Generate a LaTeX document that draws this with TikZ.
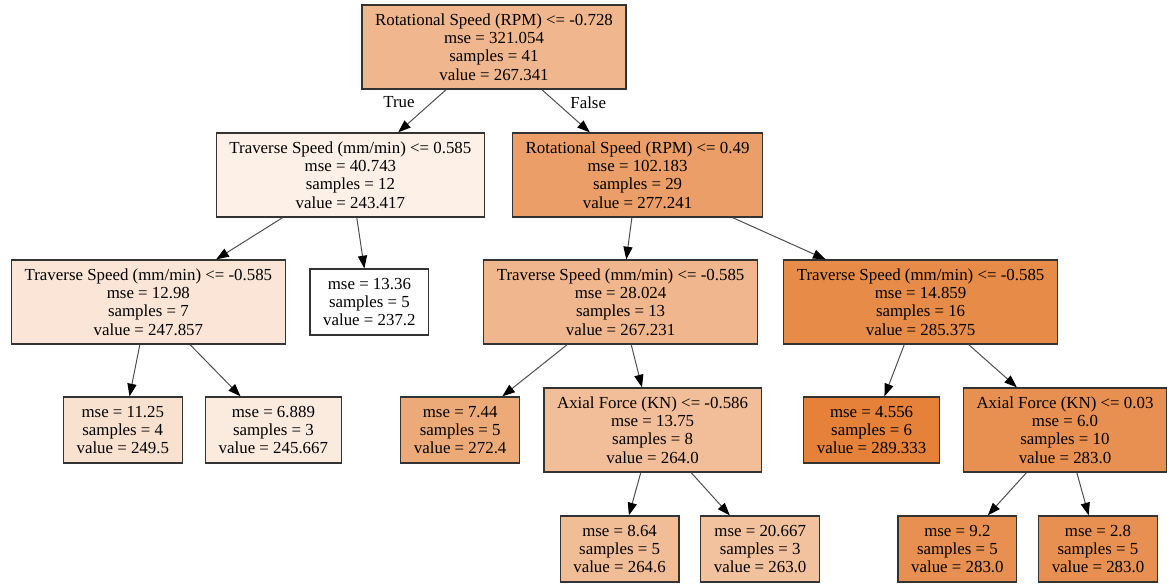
\documentclass[tikz,border=0pt]{standalone}
\usepackage{fontspec}
\setmainfont{Liberation Serif}
\usepackage{tikz}
\usetikzlibrary{shapes.geometric, arrows.meta}
\definecolor{vroot}{RGB}{240,182,141}
\definecolor{vspla}{RGB}{252,240,231}
\definecolor{vsplb}{RGB}{235,158,103}
\definecolor{vsplc}{RGB}{250,229,215}
\definecolor{vspld}{RGB}{240,182,141}
\definecolor{vsple}{RGB}{231,139,72}
\definecolor{vsplf}{RGB}{242,190,153}
\definecolor{vsplg}{RGB}{232,144,81}
\definecolor{vleafa}{RGB}{249,225,208}
\definecolor{vleafb}{RGB}{251,235,223}
\definecolor{vleafc}{RGB}{237,170,121}
\definecolor{vleafd}{RGB}{229,129,57}
\definecolor{vleafe}{RGB}{241,189,151}
\definecolor{vleaff}{RGB}{242,193,157}
\definecolor{vleafg}{RGB}{232,144,81}
\tikzstyle{split} = [rectangle, minimum height=2.1cm, inner xsep=0.33cm, align=center, draw=black!80, line width=0.9pt, font=\fontsize{12}{13}\selectfont]
\tikzstyle{leaf} = [rectangle, minimum height=1.65cm, inner xsep=0.33cm, align=center, draw=black!80, line width=0.9pt, font=\fontsize{12}{13}\selectfont]
\tikzstyle{arrow} = [draw=black!70, line width=0.7pt, -{Triangle[length=9pt,width=6.5pt,color=black]}]
\begin{document}
\begin{tikzpicture}[node distance=3.2cm]
\useasboundingbox (-12.35,1.175) rectangle (16.825,-13.45);
\node (root) [split, fill=vroot] {Rotational Speed (RPM) <= -0.728\\mse = 321.054\\samples = 41\\value = 267.341};
\node (spl1) [split, fill=vspla, below of=root, xshift=-3.59cm] {Traverse Speed (mm/min) <= 0.585\\mse = 40.743\\samples = 12\\value = 243.417};
\node (spl2) [split, fill=vsplb, below of=root, xshift=3.59cm] {Rotational Speed (RPM) <= 0.49\\mse = 102.183\\samples = 29\\value = 277.241};
\node (spl3) [split, fill=vsplc, below of=spl1, xshift=-5.05cm, yshift=0.025cm] {Traverse Speed (mm/min) <= -0.585\\mse = 12.98\\samples = 7\\value = 247.857};
\node (leaf1) [leaf, fill=white, below of=spl1, xshift=0.475cm, yshift=0.025cm] {mse = 13.36\\samples = 5\\value = 237.2};
\node (spl4) [split, fill=vspld, below of=spl2, xshift=-0.425cm, yshift=0.025cm] {Traverse Speed (mm/min) <= -0.585\\mse = 28.024\\samples = 13\\value = 267.231};
\node (spl5) [split, fill=vsple, below of=spl2, xshift=7.075cm, yshift=0.025cm] {Traverse Speed (mm/min) <= -0.585\\mse = 14.859\\samples = 16\\value = 285.375};
\node (leaf2) [leaf, fill=vleafa, below of=spl3, xshift=-0.64cm] {mse = 11.25\\samples = 4\\value = 249.5};
\node (leaf3) [leaf, fill=vleafb, below of=spl3, xshift=3.125cm] {mse = 6.889\\samples = 3\\value = 245.667};
\node (leaf4) [leaf, fill=vleafc, below of=spl4, xshift=-4.01cm] {mse = 7.44\\samples = 5\\value = 272.4};
\node (spl6) [split, fill=vsplf, below of=spl4, xshift=0.8cm] {Axial Force (KN) <= -0.586\\mse = 13.75\\samples = 8\\value = 264.0};
\node (leaf5) [leaf, fill=vleafd, below of=spl5, xshift=-1.225cm] {mse = 4.556\\samples = 6\\value = 289.333};
\node (spl7) [split, fill=vsplg, below of=spl5, xshift=3.61cm] {Axial Force (KN) <= 0.03\\mse = 6.0\\samples = 10\\value = 283.0};
\node (leaf6) [leaf, fill=vleafe, below of=spl6, xshift=-0.825cm, yshift=0.225cm] {mse = 8.64\\samples = 5\\value = 264.6};
\node (leaf7) [leaf, fill=vleaff, below of=spl6, xshift=2.69cm, yshift=0.225cm] {mse = 20.667\\samples = 3\\value = 263.0};
\node (leaf8) [leaf, fill=vleafg, below of=spl7, xshift=-2.69cm, yshift=0.225cm] {mse = 9.2\\samples = 5\\value = 283.0};
\node (leaf9) [leaf, fill=vleafg, below of=spl7, xshift=0.825cm, yshift=0.225cm] {mse = 2.8\\samples = 5\\value = 283.0};
\draw [arrow] (root) -- node[pos=0.3, xshift=-0.82cm, font=\fontsize{12}{13}\selectfont] {True} (spl1);
\draw [arrow] (root) -- node[pos=0.3, xshift=0.8cm, font=\fontsize{12}{13}\selectfont] {False} (spl2);
\draw [arrow] (spl1) -- (spl3);
\draw [arrow] (spl1) -- (leaf1);
\draw [arrow] (spl2) -- (spl4);
\draw [arrow] (spl2) -- (spl5);
\draw [arrow] (spl3) -- (leaf2);
\draw [arrow] (spl3) -- (leaf3);
\draw [arrow] (spl4) -- (leaf4);
\draw [arrow] (spl4) -- (spl6);
\draw [arrow] (spl5) -- (leaf5);
\draw [arrow] (spl5) -- (spl7);
\draw [arrow] (spl6) -- (leaf6);
\draw [arrow] (spl6) -- (leaf7);
\draw [arrow] (spl7) -- (leaf8);
\draw [arrow] (spl7) -- (leaf9);
\end{tikzpicture}
\end{document}
